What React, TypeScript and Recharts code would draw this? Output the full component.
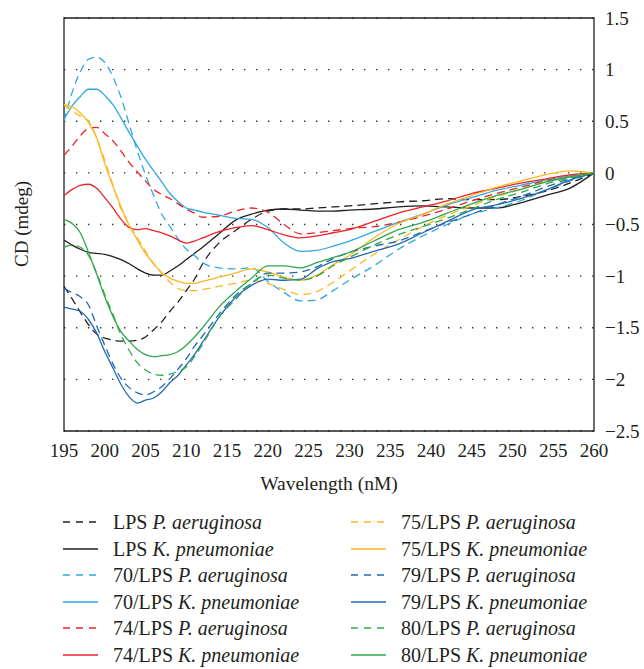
import React from "react"
import { LineChart, Line, XAxis, YAxis, CartesianGrid, ReferenceArea } from "recharts"

// wavelength samples (nm)
const wavelength = [
  195, 196, 197, 198, 199, 200, 201, 202, 203, 204, 205, 206, 207, 208, 209, 210, 211, 212,
  214, 216, 218, 220, 222, 224, 226, 228, 230, 233, 236, 239, 242, 245, 248, 251, 254, 257, 260,
]

// CD signal (mdeg) per sample
const lpsPa = [
  -1.1, -1.22, -1.35, -1.47, -1.56, -1.6, -1.62, -1.63, -1.63, -1.62, -1.59, -1.52, -1.44, -1.34, -1.25, -1.14, -1.03, -0.88,
  -0.68, -0.56, -0.45, -0.37, -0.35, -0.35, -0.34, -0.33, -0.32, -0.3, -0.28, -0.27, -0.25, -0.26, -0.26, -0.23, -0.18, -0.1, 0,
]
const lpsKp = [
  -0.65, -0.7, -0.74, -0.77, -0.78, -0.79, -0.81, -0.84, -0.88, -0.93, -0.97, -0.99, -0.99, -0.95, -0.9, -0.84, -0.78, -0.72,
  -0.59, -0.46, -0.4, -0.36, -0.35, -0.36, -0.37, -0.37, -0.36, -0.35, -0.33, -0.32, -0.33, -0.34, -0.34, -0.29, -0.22, -0.15, 0,
]
const p70Pa = [
  0.5, 0.78, 0.98, 1.1, 1.12, 1.07, 0.93, 0.73, 0.47, 0.21, -0.02, -0.22, -0.4, -0.52, -0.64, -0.74, -0.8, -0.87,
  -0.92, -0.93, -0.92, -1.05, -1.16, -1.24, -1.23, -1.14, -1.04, -0.9, -0.74, -0.61, -0.5, -0.4, -0.34, -0.27, -0.17, -0.08, 0,
]
const p70Kp = [
  0.52, 0.65, 0.74, 0.81, 0.81, 0.75, 0.66, 0.53, 0.39, 0.26, 0.13, 0.02, -0.09, -0.2, -0.28, -0.34, -0.36, -0.38,
  -0.41, -0.44, -0.45, -0.53, -0.68, -0.76, -0.75, -0.71, -0.66, -0.57, -0.48, -0.4, -0.31, -0.24, -0.17, -0.12, -0.07, -0.03, 0,
]
const p74Pa = [
  0.17, 0.26, 0.36, 0.43, 0.44, 0.38, 0.31, 0.21, 0.1, 0.01, -0.08, -0.16, -0.21, -0.25, -0.3, -0.35, -0.39, -0.43,
  -0.42, -0.37, -0.34, -0.38, -0.5, -0.59, -0.58, -0.56, -0.54, -0.52, -0.48, -0.42, -0.35, -0.27, -0.2, -0.14, -0.08, -0.04, 0,
]
const p74Kp = [
  -0.22, -0.16, -0.12, -0.11, -0.15, -0.24, -0.34, -0.45, -0.53, -0.55, -0.54, -0.56, -0.58, -0.61, -0.65, -0.68, -0.66, -0.63,
  -0.57, -0.53, -0.51, -0.55, -0.6, -0.63, -0.61, -0.58, -0.55, -0.47, -0.39, -0.33, -0.27, -0.2, -0.15, -0.1, -0.06, -0.02, 0,
]
const p75Pa = [
  0.66, 0.6, 0.55, 0.5, 0.34, 0.12, -0.12, -0.35, -0.5, -0.63, -0.76, -0.88, -0.97, -1.06, -1.12, -1.14, -1.14, -1.13,
  -1.1, -1.07, -1.04, -1.07, -1.13, -1.18, -1.15, -1.06, -0.95, -0.79, -0.65, -0.52, -0.41, -0.32, -0.23, -0.16, -0.09, -0.04, 0,
]
const p75Kp = [
  0.66, 0.64, 0.58, 0.49, 0.34, 0.09, -0.13, -0.33, -0.51, -0.65, -0.78, -0.88, -0.97, -1.02, -1.05, -1.07, -1.07, -1.05,
  -1.01, -0.97, -0.93, -0.96, -1.01, -1.04, -0.99, -0.89, -0.8, -0.63, -0.49, -0.4, -0.3, -0.22, -0.14, -0.08, -0.02, 0.02, 0,
]
const p79Pa = [
  -1.12, -1.16, -1.2, -1.28, -1.48, -1.67, -1.85, -1.99, -2.08, -2.13, -2.15, -2.12, -2.07, -1.99, -1.9, -1.8, -1.68, -1.58,
  -1.37, -1.19, -1.07, -0.97, -0.97, -0.96, -0.91, -0.83, -0.77, -0.71, -0.66, -0.57, -0.48, -0.4, -0.31, -0.23, -0.14, -0.06, 0,
]
const p79Kp = [
  -1.3, -1.32, -1.34, -1.42, -1.55, -1.73, -1.89, -2.05, -2.17, -2.23, -2.2, -2.18, -2.12, -2.03, -1.96, -1.86, -1.76, -1.64,
  -1.4, -1.21, -1.09, -1.03, -1.04, -1.03, -0.93, -0.86, -0.83, -0.76, -0.69, -0.58, -0.47, -0.36, -0.31, -0.25, -0.17, -0.07, 0,
]
const p80Pa = [
  -0.72, -0.7, -0.72, -0.8, -0.97, -1.18, -1.37, -1.57, -1.72, -1.84, -1.91, -1.95, -1.96, -1.95, -1.92, -1.88, -1.78, -1.66,
  -1.4, -1.23, -1.07, -0.99, -1.02, -1.04, -1.0, -0.9, -0.82, -0.7, -0.6, -0.52, -0.44, -0.35, -0.26, -0.19, -0.11, -0.05, 0,
]
const p80Kp = [
  -0.45, -0.49, -0.58, -0.77, -0.98, -1.2, -1.39, -1.54, -1.63, -1.71, -1.76, -1.78, -1.77, -1.76, -1.73, -1.67, -1.59, -1.5,
  -1.3, -1.15, -1.02, -0.9, -0.9, -0.92, -0.87, -0.82, -0.77, -0.66, -0.55, -0.48, -0.39, -0.3, -0.22, -0.16, -0.09, -0.04, 0,
]

const xTicks = [195, 200, 205, 210, 215, 220, 225, 230, 235, 240, 245, 250, 255, 260]
const yTicks = [-2.5, -2, -1.5, -1, -0.5, 0, 0.5, 1, 1.5]

const series = [
  { key: "lpsPa", values: lpsPa, prefix: "LPS ", species: "P. aeruginosa", color: "#231f20", dashed: true },
  { key: "lpsKp", values: lpsKp, prefix: "LPS ", species: "K. pneumoniae", color: "#231f20", dashed: false },
  { key: "p70Pa", values: p70Pa, prefix: "70/LPS ", species: "P. aeruginosa", color: "#2ea9e0", dashed: true },
  { key: "p70Kp", values: p70Kp, prefix: "70/LPS ", species: "K. pneumoniae", color: "#2ea9e0", dashed: false },
  { key: "p74Pa", values: p74Pa, prefix: "74/LPS ", species: "P. aeruginosa", color: "#ec2227", dashed: true },
  { key: "p74Kp", values: p74Kp, prefix: "74/LPS ", species: "K. pneumoniae", color: "#ec2227", dashed: false },
  { key: "p75Pa", values: p75Pa, prefix: "75/LPS ", species: "P. aeruginosa", color: "#fbb720", dashed: true },
  { key: "p75Kp", values: p75Kp, prefix: "75/LPS ", species: "K. pneumoniae", color: "#fbb720", dashed: false },
  { key: "p79Pa", values: p79Pa, prefix: "79/LPS ", species: "P. aeruginosa", color: "#2369b3", dashed: true },
  { key: "p79Kp", values: p79Kp, prefix: "79/LPS ", species: "K. pneumoniae", color: "#2369b3", dashed: false },
  { key: "p80Pa", values: p80Pa, prefix: "80/LPS ", species: "P. aeruginosa", color: "#2fa84a", dashed: true },
  { key: "p80Kp", values: p80Kp, prefix: "80/LPS ", species: "K. pneumoniae", color: "#2fa84a", dashed: false },
]

const data = wavelength.map((wl, i) => {
  const row: Record<string, number> = { wl }
  series.forEach((s) => {
    row[s.key] = s.values[i]
  })
  return row
})

const ink = "#231f20"
const font = '"Liberation Serif", "Times New Roman", serif'

function formatY(v: number) {
  return String(v).replace("-", "\u2212")
}

function LegendItem({ s }: { s: (typeof series)[number] }) {
  return (
    <div style={{ display: "flex", alignItems: "center", height: 26.5, lineHeight: "22px" }}>
      <svg width={36} height={6} style={{ marginRight: 14 }}>
        <line
          x1={0}
          y1={3}
          x2={35}
          y2={3}
          stroke={s.color}
          strokeWidth={1.6}
          strokeDasharray={s.dashed ? "7 6" : undefined}
        />
      </svg>
      <span>
        {s.prefix}
        <i>{s.species}</i>
      </span>
    </div>
  )
}

export default function App() {
  const left = series.slice(0, 6)
  const right = series.slice(6)
  return (
    <div
      style={{
        position: "absolute",
        left: 0,
        top: 0,
        width: 644,
        height: 669,
        background: "#fff",
        fontFamily: font,
        color: ink,
        overflow: "hidden",
      }}
    >
      <LineChart width={644} height={500} data={data} margin={{ top: 18, right: 0, bottom: 0, left: 64 }}>
        <CartesianGrid
          yAxisId="r"
          vertical={false}
          stroke="#333"
          strokeWidth={1.4}
          strokeDasharray="1.4 10.6"
        />
        <XAxis
          dataKey="wl"
          type="number"
          domain={[195, 260]}
          ticks={xTicks}
          height={69}
          tickSize={0}
          tickMargin={13}
          axisLine={false}
          tickLine={false}
          tick={{ fontSize: 19, fill: ink, fontFamily: font }}
          label={{ value: "Wavelength (nM)", position: "insideBottom", offset: 10, fontSize: 19.5, fill: ink, fontFamily: font }}
        />
        <YAxis
          yAxisId="r"
          orientation="right"
          width={50}
          domain={[-2.5, 1.5]}
          ticks={yTicks}
          tickFormatter={formatY}
          tickSize={0}
          tickMargin={11}
          axisLine={false}
          tickLine={false}
          tick={{ fontSize: 19, fill: ink, fontFamily: font }}
        />
        {series.map((s) => (
          <Line
            key={s.key}
            yAxisId="r"
            type="monotone"
            dataKey={s.key}
            stroke={s.color}
            strokeWidth={1.3}
            strokeDasharray={s.dashed ? "8 5" : undefined}
            dot={false}
            isAnimationActive={false}
          />
        ))}
        <ReferenceArea
          yAxisId="r"
          x1={195}
          x2={260}
          y1={-2.5}
          y2={1.5}
          fill="none"
          fillOpacity={0}
          stroke={ink}
          strokeWidth={1.3}
          ifOverflow="visible"
        />
      </LineChart>
      <div
        style={{
          position: "absolute",
          left: 22,
          top: 224,
          transform: "translate(-50%, -50%) rotate(-90deg)",
          whiteSpace: "nowrap",
          fontSize: 19,
        }}
      >
        CD (mdeg)
      </div>
      <div style={{ position: "absolute", left: 63, top: 509, fontSize: 20 }}>
        {left.map((s) => (
          <LegendItem key={s.key} s={s} />
        ))}
      </div>
      <div style={{ position: "absolute", left: 351, top: 509, fontSize: 20 }}>
        {right.map((s) => (
          <LegendItem key={s.key} s={s} />
        ))}
      </div>
    </div>
  )
}
